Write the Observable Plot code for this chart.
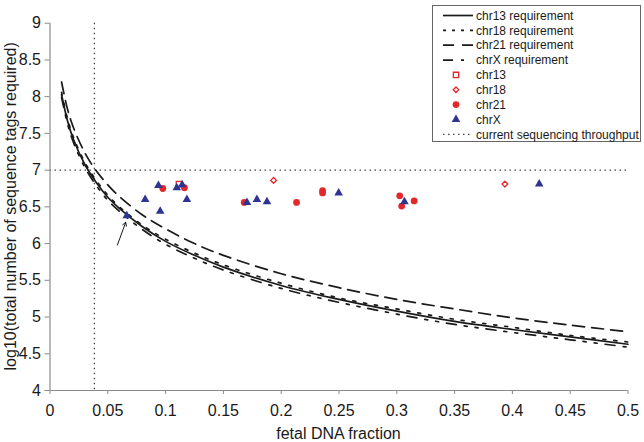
<!DOCTYPE html>
<html><head><meta charset="utf-8">
<script src="https://cdn.jsdelivr.net/npm/d3@7"></script>
<script src="https://cdn.jsdelivr.net/npm/@observablehq/plot@0.6"></script>
<style>body{margin:0;background:#fff} svg{display:block}</style>
</head><body><div id="chart"></div>
<script>
// ---- data ----
const fractionGrid = [0.01,0.015,0.02,0.03,0.04,0.05,0.06,0.08,0.1,0.125,0.15,0.2,0.25,0.3,0.35,0.4,0.45,0.5];
const chr13Req = [8.03,7.68,7.43,7.08,6.83,6.63,6.48,6.23,6.03,5.84,5.68,5.43,5.24,5.08,4.94,4.83,4.73,4.63];
const chr18Req = [8.06,7.71,7.46,7.11,6.86,6.66,6.50,6.25,6.06,5.87,5.71,5.46,5.26,5.11,4.97,4.86,4.75,4.66];
const chr21Req = [8.20,7.84,7.59,7.24,6.99,6.80,6.64,6.39,6.20,6.00,5.84,5.59,5.40,5.24,5.11,4.99,4.89,4.80];
const chrXReq  = [7.99,7.64,7.39,7.04,6.79,6.59,6.44,6.19,5.99,5.80,5.64,5.39,5.20,5.04,4.90,4.79,4.69,4.59];

const chr13X = [0.1115];
const chr13Y = [6.81];
const chr18X = [0.1934, 0.3935];
const chr18Y = [6.86, 6.81];
const chr21X = [0.0976,0.1163,0.168,0.2133,0.2358,0.2358,0.3025,0.3042,0.315];
const chr21Y = [6.75,6.76,6.56,6.56,6.72,6.69,6.65,6.51,6.58];
const chrXX  = [0.0664,0.0823,0.0938,0.0953,0.1097,0.1143,0.1184,0.1704,0.179,0.1877,0.2497,0.3066,0.4232];
const chrXY  = [6.38,6.60,6.79,6.44,6.76,6.80,6.60,6.56,6.60,6.57,6.69,6.57,6.81];

const throughputLog = 7;
const minFraction = 0.0384;
const arrowFrom = [0.0583, 5.98];
const arrowTo = [0.0655, 6.29];

const xTicks = [0,0.05,0.1,0.15,0.2,0.25,0.3,0.35,0.4,0.45,0.5];
const xTickLabels = ["0","0.05","0.1","0.15","0.2","0.25","0.3","0.35","0.4","0.45","0.5"];
const yTicks = [4,4.5,5,5.5,6,6.5,7,7.5,8,8.5,9];
const yTickLabels = ["4","4.5","5","5.5","6","6.5","7","7.5","8","8.5","9"];

const reqNames = ["chr13 requirement","chr18 requirement","chr21 requirement","chrX requirement"];
const reqValues = [chr13Req, chr18Req, chr21Req, chrXReq];
const reqDash = [null, "3,8", "12,7", "10,8,3,8,3,8"];
const legendDash = [null, "3,6", "11,8", "10,8,3,20"];
const sampleNames = ["chr13","chr18","chr21","chrX"];
const throughputName = "current sequencing throughput";
const xLabel = "fetal DNA fraction";
const yLabel = "log10(total number of sequence tags required)";

// ---- styles ----
const RED = "#e3282c", BLUE = "#2e3590", INK = "#1a1a1a", AXIS = "#8a8a8a";
const FONT = "Liberation Sans, Arial, sans-serif";

const reqTables = reqValues.map((vals, i) => fractionGrid.map((x, j) => ({x, y: vals[j], s: reqNames[i]})));
const pts = (xs, ys) => xs.map((x, i) => ({x, y: ys[i]}));

const W = 644, H = 442, ML = 49.5, MR = 16.5, MT = 22.7, MB = 52;

const lineMarks = reqTables.map((t, i) => Plot.line(t, {
  x: "x", y: "y", curve: "catmull-rom", stroke: INK, strokeWidth: 1.7,
  strokeDasharray: reqDash[i] || undefined
}));

const chart = Plot.plot({
  width: W, height: H,
  marginLeft: ML, marginRight: MR, marginTop: MT, marginBottom: MB,
  style: {fontFamily: FONT, fontSize: "16px", color: INK, background: "white"},
  x: {domain: [0, 0.5]},
  y: {domain: [4, 9]},
  marks: [
    Plot.ruleY([throughputLog], {stroke: "#444", strokeWidth: 1.3, strokeDasharray: "1.5,3.5"}),
    Plot.ruleX([minFraction], {stroke: "#444", strokeWidth: 1.3, strokeDasharray: "1.5,3.5"}),
    ...lineMarks,
    Plot.dot(pts(chr13X, chr13Y), {x: "x", y: "y", symbol: "square", r: 3, stroke: RED, strokeWidth: 1.3, fill: "white"}),
    Plot.dot(pts(chr18X, chr18Y), {x: "x", y: "y", symbol: "diamond2", r: 2.6, stroke: RED, strokeWidth: 1.3, fill: "white"}),
    Plot.dot(pts(chr21X, chr21Y), {x: "x", y: "y", symbol: "circle", r: 3.4, fill: RED}),
    Plot.dot(pts(chrXX, chrXY), {x: "x", y: "y", symbol: "triangle", r: 3.2, fill: BLUE}),
    Plot.arrow([{x1: arrowFrom[0], y1: arrowFrom[1], x2: arrowTo[0], y2: arrowTo[1]}],
      {x1: "x1", y1: "y1", x2: "x2", y2: "y2", stroke: INK, strokeWidth: 1, headLength: 6}),
    Plot.ruleX([0], {stroke: AXIS, strokeWidth: 1.2}),
    Plot.ruleY([4], {stroke: AXIS, strokeWidth: 1.2}),
    Plot.axisX({ticks: xTicks, tickFormat: d => xTickLabels[xTicks.indexOf(d)], tickSize: 4, tickPadding: 10,
      stroke: AXIS, fill: INK, fontSize: 16, label: null}),
    Plot.axisY({ticks: yTicks, tickFormat: d => yTickLabels[yTicks.indexOf(d)], tickSize: 5, tickPadding: 4,
      stroke: AXIS, fill: INK, fontSize: 16, label: null})
  ]
});

document.getElementById("chart").appendChild(chart);

// ---- axis titles and legend ----
const svg = d3.select(chart);
svg.append("text").attr("x", ML + (W - ML - MR) / 2).attr("y", 439)
  .attr("text-anchor", "middle").attr("font-family", FONT).attr("font-size", 16).attr("fill", INK).text(xLabel);
svg.append("text").attr("transform", `translate(16,${(MT + H - MB) / 2}) rotate(-90)`)
  .attr("text-anchor", "middle").attr("font-family", FONT).attr("font-size", 16).attr("fill", INK).text(yLabel);

const lg = svg.append("g").attr("font-family", FONT).attr("font-size", 12).attr("fill", INK)
  .attr("text-anchor", "start").style("text-anchor", "start");
lg.append("rect").attr("x", 432.5).attr("y", 5.5).attr("width", 208).attr("height", 136)
  .attr("fill", "white").attr("stroke", "#666").attr("stroke-width", 1);
const rowY = i => 15.5 + i * 14.85;
const textX = 476, sx1 = 443, sx2 = 473, mx = 456;
reqNames.forEach((n, i) => {
  const ln = lg.append("line").attr("x1", sx1).attr("x2", sx2).attr("y1", rowY(i)).attr("y2", rowY(i))
    .attr("stroke", INK).attr("stroke-width", 1.7);
  if (legendDash[i]) ln.attr("stroke-dasharray", legendDash[i]);
  lg.append("text").attr("x", textX).attr("y", rowY(i)).attr("dy", "0.35em").style("text-anchor", "start").text(n);
});
const legSyms = [
  {t: d3.symbolSquare, size: 28, fill: "white", stroke: RED},
  {t: d3.symbolDiamond2, size: 20, fill: "white", stroke: RED},
  {t: d3.symbolCircle, size: 36, fill: RED, stroke: "none"},
  {t: d3.symbolTriangle, size: 32, fill: BLUE, stroke: "none"}
];
sampleNames.forEach((n, k) => {
  const i = k + 4;
  const s = legSyms[k];
  lg.append("path").attr("d", d3.symbol(s.t, s.size)()).attr("transform", `translate(${mx},${rowY(i)})`)
    .attr("fill", s.fill).attr("stroke", s.stroke).attr("stroke-width", 1.3);
  lg.append("text").attr("x", textX).attr("y", rowY(i)).attr("dy", "0.35em").style("text-anchor", "start").text(n);
});
lg.append("line").attr("x1", sx1).attr("x2", sx2).attr("y1", rowY(8)).attr("y2", rowY(8))
  .attr("stroke", "#444").attr("stroke-width", 1.3).attr("stroke-dasharray", "1.5,3.5");
lg.append("text").attr("x", textX).attr("y", rowY(8)).attr("dy", "0.35em").style("text-anchor", "start").text(throughputName);
</script>
</body></html>
